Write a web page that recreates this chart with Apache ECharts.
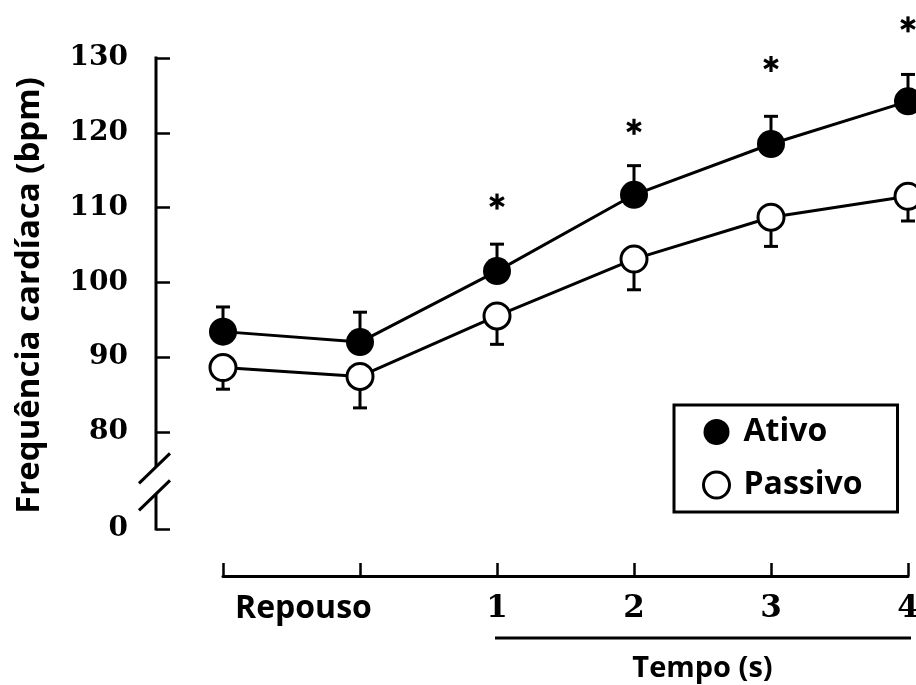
<!DOCTYPE html>
<html><head><meta charset="utf-8">
<script src="https://cdn.jsdelivr.net/npm/echarts@6/dist/echarts.min.js"></script>
<style>html,body{margin:0;padding:0;background:#fff}#c{width:916px;height:685px}</style>
</head><body><div id="c"></div>
<script>
// ---- data ----
const categories = ['Repouso', '', '1', '2', '3', '4'];
const ativo = [93.4, 92.0, 101.5, 111.7, 118.5, 124.2];
const ativoErr = [3.3, 4.0, 3.6, 3.9, 3.7, 3.6];
const passivo = [88.6, 87.4, 95.5, 103.1, 108.7, 111.5];
const passivoErr = [2.9, 4.2, 3.8, 4.1, 3.9, 3.3];
const starPos = [null, null, 110.8, 120.8, 129.2, 134.5];
const yTickLabels = [0, 80, 90, 100, 110, 120, 130];
const yZeroAt = 67;          // axis value where the "0" of the broken axis sits
const yBreak = [71.7, 75.3]; // axis values where the break slashes cross the axis

const FONT_SANS = '"Open Sans", "Liberation Sans", sans-serif';
const FONT_NUM = '"DejaVu Serif", serif';

const yTickPos = yTickLabels.map(t => t === 0 ? yZeroAt : t);
const catData = categories.map(c => c === 'Repouso'
  ? { value: c, textStyle: { fontFamily: FONT_SANS, fontWeight: 'bold', fontSize: 32, align: 'left', padding: [0, 0, 0, 12] } }
  : c);

const chart = echarts.init(document.getElementById('c'), null, { renderer: 'canvas' });

function errRender(dir) {
  return function (params, api) {
    const p0 = api.coord([api.value(0), api.value(1)]);
    const p1 = api.coord([api.value(0), api.value(2)]);
    const hw = 7;
    return { type: 'group', children: [
      { type: 'line', shape: { x1: p0[0], y1: p0[1], x2: p1[0], y2: p1[1] }, style: { stroke: '#000', lineWidth: 3 } },
      { type: 'line', shape: { x1: p1[0] - hw, y1: p1[1], x2: p1[0] + hw, y2: p1[1] }, style: { stroke: '#000', lineWidth: 3 } }
    ] };
  };
}

function starRender(params, api) {
  const c = api.coord([api.value(0), api.value(1)]);
  const r = 8;
  const kids = [];
  [90, 30, 150].forEach(a => {
    const rad = a * Math.PI / 180;
    const dx = Math.cos(rad) * r, dy = Math.sin(rad) * r;
    kids.push({ type: 'line', shape: { x1: c[0] - dx, y1: c[1] + dy, x2: c[0] + dx, y2: c[1] - dy }, style: { stroke: '#000', lineWidth: 3.2 } });
  });
  return { type: 'group', children: kids };
}

chart.setOption({
  animation: false,
  backgroundColor: '#fff',
  grid: { left: 223, right: 8, top: 58, bottom: 156, outerBoundsMode: 'none', containLabel: false },
  xAxis: {
    type: 'category', data: catData, boundaryGap: false, position: 'bottom', offset: 47,
    axisLine: { show: true, lineStyle: { color: '#000', width: 3 } },
    axisTick: { show: true, inside: true, length: 13, lineStyle: { color: '#000', width: 2.5 } },
    axisLabel: { interval: 0, margin: 17, fontFamily: FONT_NUM, fontWeight: 'bold', fontSize: 31, color: '#000' },
    splitLine: { show: false }
  },
  yAxis: {
    type: 'value', min: yZeroAt, max: 130, position: 'left', offset: 67,
    axisLine: { show: false },
    axisTick: { show: true, inside: true, length: 14, customValues: yTickPos, lineStyle: { color: '#000', width: 2.5 } },
    axisLabel: { customValues: yTickPos, margin: 28, fontFamily: FONT_NUM, fontWeight: 'bold', fontSize: 28, color: '#000',
      formatter: v => v === yZeroAt ? '0' : String(v) },
    splitLine: { show: false }
  },
  legend: {
    orient: 'vertical', left: 674, top: 405,
    data: [
      { name: 'Ativo', icon: 'circle', itemStyle: { color: '#000', borderWidth: 0 } },
      { name: 'Passivo', icon: 'circle', itemStyle: { color: '#fff', borderColor: '#000', borderWidth: 3 } }
    ],
    itemWidth: 44, itemHeight: 26, itemGap: 21,
    textStyle: { fontFamily: FONT_SANS, fontWeight: 'bold', fontSize: 32, color: '#000', lineHeight: 32 },
    borderColor: '#000', borderWidth: 3, padding: [11, 35, 11, 28], selectedMode: false
  },
  series: [
    { type: 'custom', name: 'errAtivo', data: ativo.map((v, i) => [i, v, v + ativoErr[i]]), renderItem: errRender(1), z: 1, silent: true },
    { type: 'custom', name: 'errPassivo', data: passivo.map((v, i) => [i, v, v - passivoErr[i]]), renderItem: errRender(-1), z: 1, silent: true },
    { type: 'custom', name: 'stars', data: starPos.map((v, i) => v == null ? null : [i, v]).filter(d => d), renderItem: starRender, clip: false, z: 1, silent: true },
    { type: 'line', name: 'Ativo', data: ativo, symbol: 'circle', symbolSize: 28, showSymbol: true,
      lineStyle: { color: '#000', width: 3 }, itemStyle: { color: '#000' }, z: 3, silent: true },
    { type: 'line', name: 'Passivo', data: passivo, symbol: 'circle', symbolSize: 26, showSymbol: true,
      lineStyle: { color: '#000', width: 3 }, itemStyle: { color: '#fff', borderColor: '#000', borderWidth: 3 }, z: 3, silent: true }
  ]
});

// ---- annotations: broken y axis line, y title, "Tempo (s)" bracket ----
const yPix = v => chart.convertToPixel({ yAxisIndex: 0 }, v);
const xPix = i => chart.convertToPixel({ xAxisIndex: 0 }, i);
const axisX = xPix(0) - 67;
const yTop = yPix(130), yUp = yPix(yBreak[1]), yLo = yPix(yBreak[0]), yBot = yPix(yZeroAt);
const xAxisY = yBot + 47;
const ln = (x1, y1, x2, y2, w) => ({ type: 'line', shape: { x1, y1, x2, y2 }, style: { stroke: '#000', lineWidth: w || 3 }, z: 50 });
chart.setOption({
  graphic: [
    ln(axisX, yTop - 1.5, axisX, yUp, 3),
    ln(axisX, yLo, axisX, yBot + 1.5, 3),
    ln(axisX - 17, yUp + 16.5, axisX + 14, yUp - 13.5, 3),
    ln(axisX - 17, yLo + 16.5, axisX + 14, yLo - 13.5, 3),
    { type: 'text', x: 30, y: (yTop + yBot) / 2 + 2, rotation: Math.PI / 2, z: 50,
      style: { text: 'Frequência cardíaca (bpm)', font: 'bold 33px ' + FONT_SANS, fill: '#000', align: 'center', verticalAlign: 'middle' } },
    ln(xPix(2) - 2, xAxisY + 62, xPix(5) + 3, xAxisY + 62, 3),
    { type: 'text', x: (xPix(2) + xPix(5)) / 2, y: xAxisY + 93, z: 50,
      style: { text: 'Tempo (s)', font: 'bold 29px ' + FONT_SANS, fill: '#000', align: 'center', verticalAlign: 'middle' } }
  ]
});
</script></body></html>
